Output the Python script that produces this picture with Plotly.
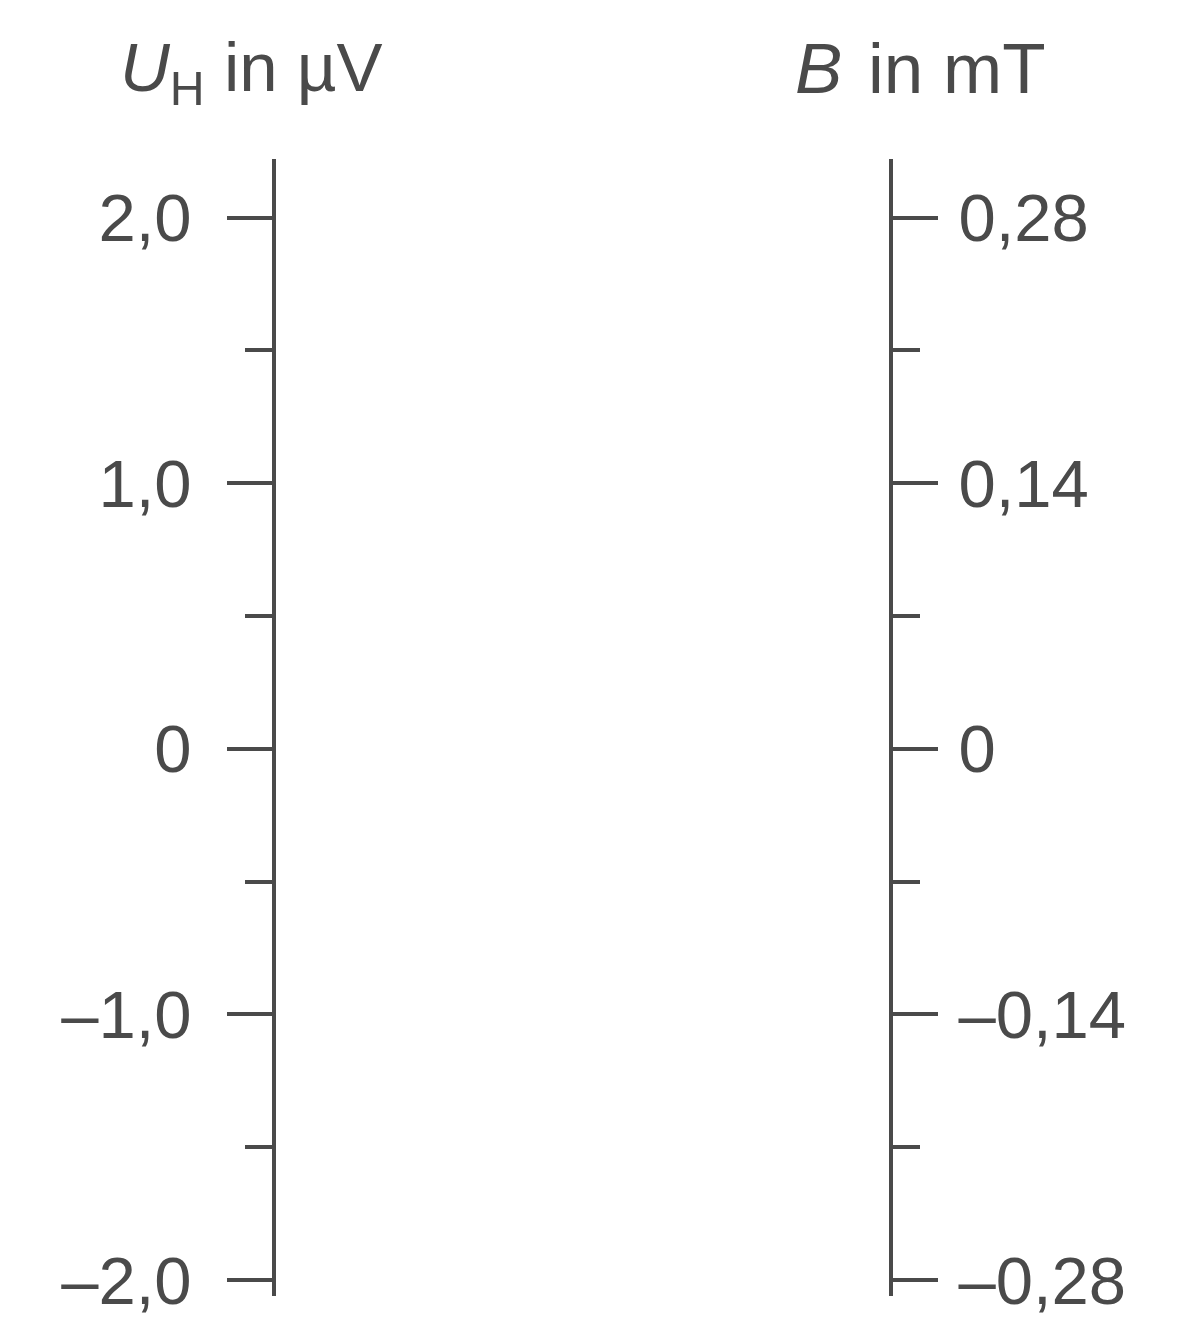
import plotly.graph_objects as go

# Left axis: Hall voltage U_H in µV
uh_major_vals = [2.0, 1.0, 0.0, -1.0, -2.0]
uh_major_text = ["2,0", "1,0", "0", "–1,0", "–2,0"]
uh_minor_vals = [1.5, 0.5, -0.5, -1.5]

# Right axis: magnetic flux density B in mT
b_major_vals = [0.28, 0.14, 0.0, -0.14, -0.28]
b_major_text = ["0,28", "0,14", "0", "–0,14", "–0,28"]
b_minor_vals = [0.21, 0.07, -0.07, -0.21]

uh_range = [-2.06, 2.221]
b_range = [uh_range[0] * 0.14, uh_range[1] * 0.14]

INK = "#4a4a4a"
FONT = "Liberation Sans, Arial, sans-serif"
W, H = 1183, 1329
L, T = 276, 159
R = W - 889
B = H - 1302

fig = go.Figure()
fig.add_trace(go.Scatter(x=[], y=[], yaxis="y", showlegend=False))
fig.add_trace(go.Scatter(x=[], y=[], yaxis="y2", showlegend=False))

axis_common = dict(
    showline=True, linecolor=INK, linewidth=4, mirror=False,
    showgrid=False, zeroline=False,
    ticks="outside", ticklen=45, tickwidth=4, tickcolor=INK,
    tickfont=dict(family=FONT, size=67, color=INK),
    tickmode="array", fixedrange=True, ticklabeloverflow="allow",
)

fig.update_layout(
    width=W, height=H,
    margin=dict(l=L, r=R, t=T, b=B, pad=0),
    paper_bgcolor="white", plot_bgcolor="white",
    xaxis=dict(visible=False, range=[0, 1]),
    yaxis=dict(
        range=uh_range, side="left",
        tickvals=uh_major_vals, ticktext=uh_major_text,
        ticklabelstandoff=22,
        minor=dict(tickvals=uh_minor_vals, ticks="outside", ticklen=27,
                   tickwidth=4, tickcolor=INK, showgrid=False),
        **axis_common,
    ),
    yaxis2=dict(
        range=b_range, side="right", overlaying="y", anchor="x",
        tickvals=b_major_vals, ticktext=b_major_text,
        ticklabelstandoff=7,
        minor=dict(tickvals=b_minor_vals, ticks="outside", ticklen=27,
                   tickwidth=4, tickcolor=INK, showgrid=False),
        **axis_common,
    ),
    showlegend=False,
)

def px_to_paper_x(px):
    return (px - L) / (W - L - R)

def px_to_paper_y(py):
    return (H - B - py) / (H - T - B)

fig.add_annotation(
    text="<i>U</i><sub>H</sub> in µV", xref="paper", yref="paper",
    x=px_to_paper_x(118), y=px_to_paper_y(72), xanchor="left", yanchor="middle",
    showarrow=False, font=dict(family=FONT, size=69, color=INK),
)
fig.add_annotation(
    text="<i>B</i>\u200a in mT", xref="paper", yref="paper",
    x=px_to_paper_x(793), y=px_to_paper_y(68), xanchor="left", yanchor="middle",
    showarrow=False, font=dict(family=FONT, size=71, color=INK),
)

fig.write_html(
    "out.html",
    config={"displayModeBar": False, "staticPlot": True},
    post_script="document.body.style.margin='0';"
                "document.body.style.overflow='hidden';"
                "document.documentElement.style.overflow='hidden';",
)
